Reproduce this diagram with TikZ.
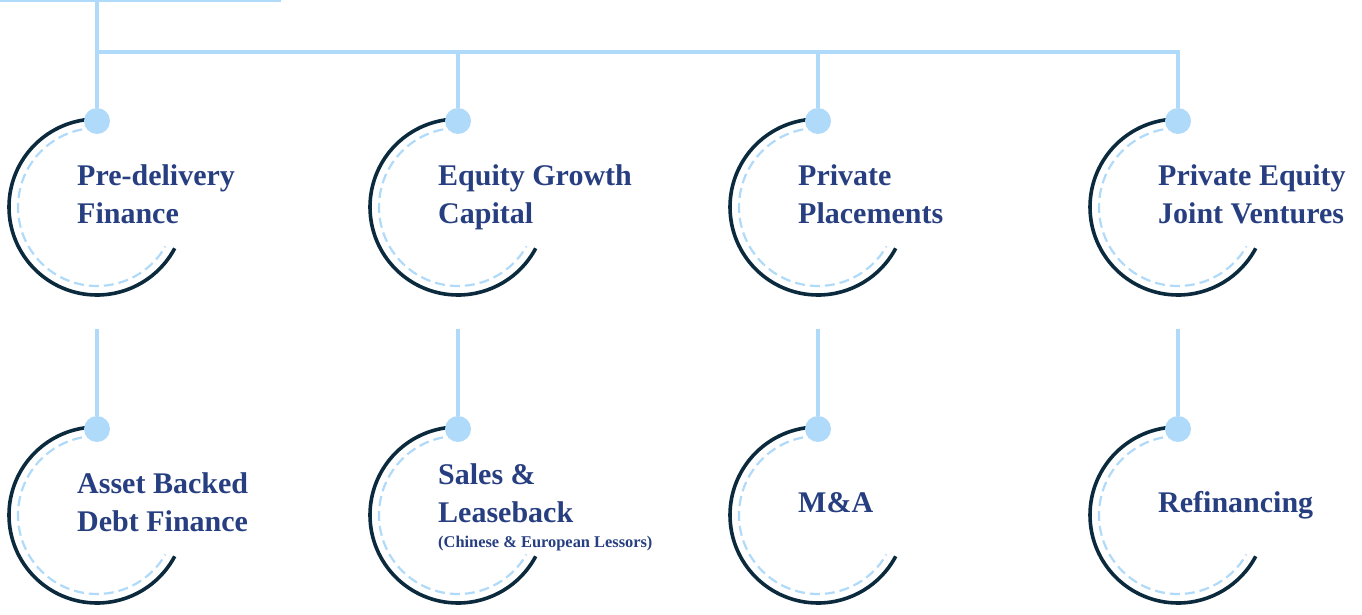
\documentclass[tikz,border=0pt]{standalone}
\usepackage{fontspec}
\setmainfont{Liberation Serif}
\usetikzlibrary{calc}

\definecolor{ringdark}{HTML}{0B2A3D}
\definecolor{linkblue}{HTML}{B0DAF9}
\definecolor{labelblue}{HTML}{273F80}

\begin{document}
\begin{tikzpicture}[x=1pt, y=1pt,
                    link/.style={draw=linkblue, line width=4pt},
                    ring/.style={draw=ringdark, line width=3.6pt},
                    dash ring/.style={draw=linkblue, line width=2.2pt, dash pattern=on 10pt off 5pt},
                    knob/.style={circle, fill=linkblue, minimum size=26pt, inner sep=0pt},
                    main node/.style={anchor=base west, align=left, inner sep=0pt, text=labelblue,
                                      font=\fontsize{30}{38}\selectfont\bfseries},
                    note/.style={font=\fontsize{16.4}{18}\selectfont\bfseries}]
  \useasboundingbox (0,0) rectangle (1362,-615);
  \foreach \n/\x in {1/97,2/458,3/818,4/1178} {
    \coordinate (t\n) at (\x,-207);
    \coordinate (b\n) at (\x,-515);
    \coordinate (s\n) at (\x,-329);
  }
  \foreach \c in {t1,t2,t3,t4,b1,b2,b3,b4} {
    \draw[dash ring] (\c) ++(90:79pt) arc[start angle=90, end angle=330, radius=79pt];
    \draw[ring] (\c) ++(90:88pt) arc[start angle=90, end angle=332, radius=88pt];
    \node[knob] (k\c) at ($(\c)+(0,86)$) {};
  }
  \coordinate (root) at (97,2);
  \coordinate (rootleft) at (-2,-0.5);
  \coordinate (rootright) at (281,-0.5);
  \coordinate (bar) at (97,-52);
  \draw[link] (rootleft) -- (rootright);
  \draw[link] (root) -- (kt1);
  \draw[link] (bar) -| (kt4);
  \draw[link] (kt2) -- (kt2 |- bar);
  \draw[link] (kt3) -- (kt3 |- bar);
  \foreach \n in {1,2,3,4}
    \draw[link] (s\n) -- (kb\n);
  % labels
  \node[main node] (1) at ($(t1)+(-20,-16)$) {Pre-delivery\\Finance};
  \node[main node] (2) at ($(t2)+(-20,-16)$) {Equity Growth\\Capital};
  \node[main node] (3) at ($(t3)+(-20,-16)$) {Private\\Placements};
  \node[main node] (4) at ($(t4)+(-20,-16)$) {Private Equity\\Joint Ventures};
  \node[main node] (5) at ($(b1)+(-20,-16)$) {Asset Backed\\Debt Finance};
  \node[main node] (6) at ($(b2)+(-20,-7)$) {Sales \&\\Leaseback};
  \node[main node, note] (6a) at ($(b2)+(-20,-32)$) {(Chinese \& European Lessors)};
  \node[main node] (7) at ($(b3)+(-20,3)$) {M\&A};
  \node[main node] (8) at ($(b4)+(-20,3)$) {Refinancing};
\end{tikzpicture}
\end{document}
